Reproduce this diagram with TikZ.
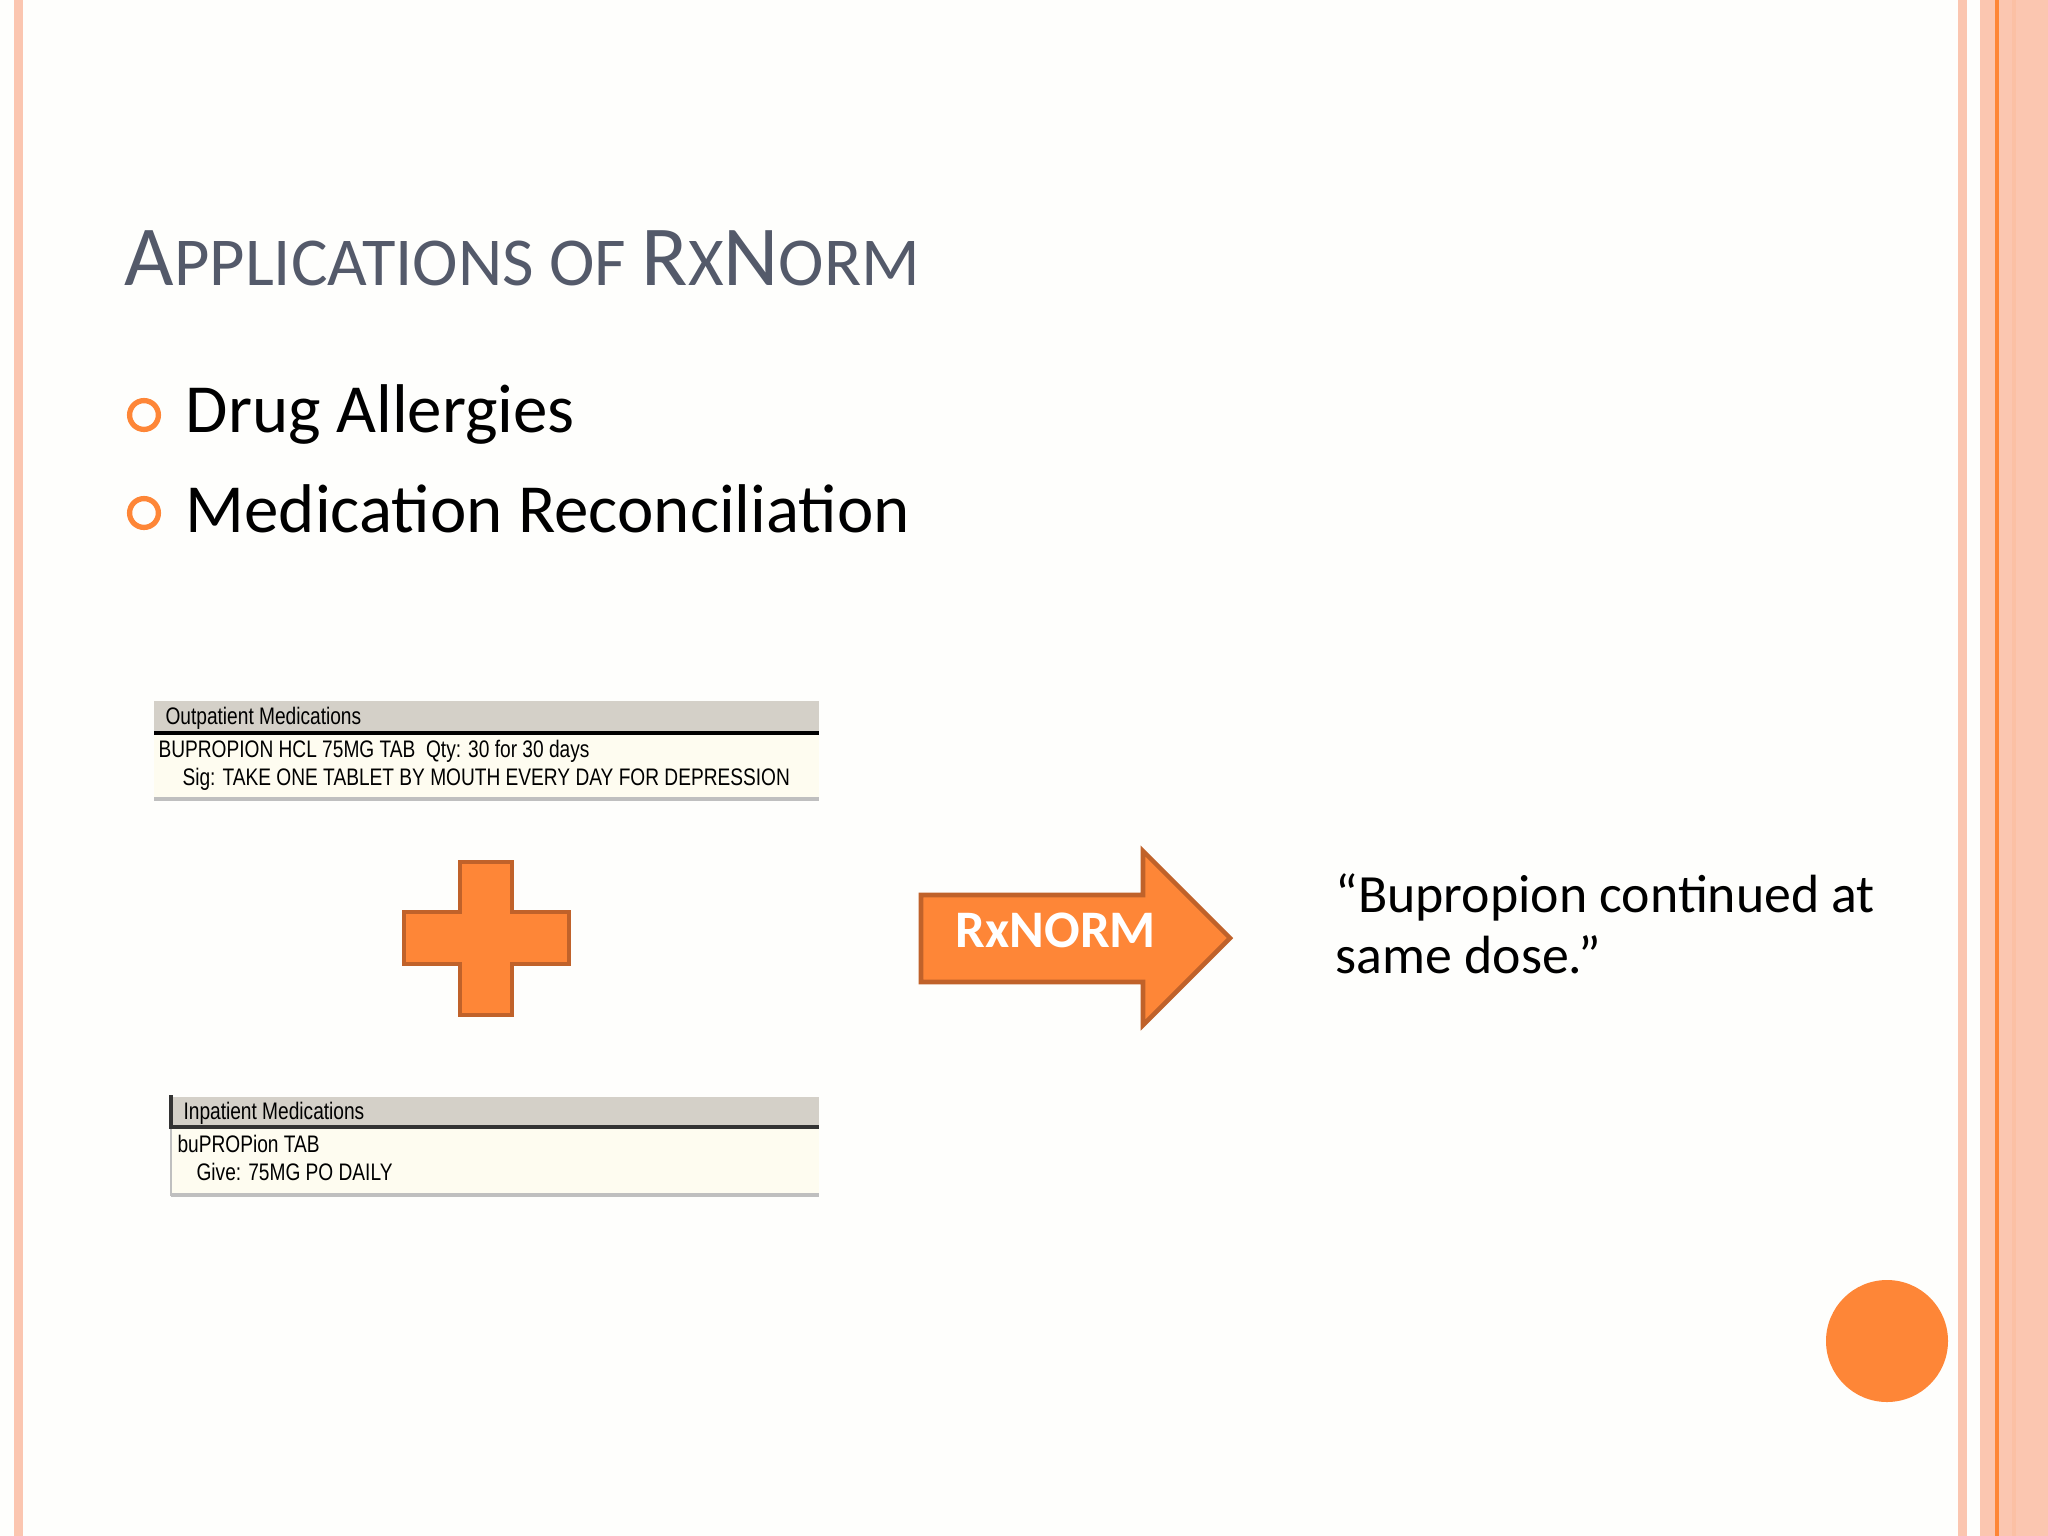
\documentclass[tikz,border=0pt]{standalone}
\usepackage{fontspec}
\setmainfont{Carlito}
\newfontfamily\uifont{Liberation Sans}
\definecolor{bg}{HTML}{FEFEFC}
\definecolor{pinkb}{HTML}{FBC6B0}
\definecolor{orng}{HTML}{FE8637}
\definecolor{orngd}{HTML}{C0622A}
\definecolor{titlec}{HTML}{545A6A}
\definecolor{hdr}{HTML}{D4D0C8}
\definecolor{bodyc}{HTML}{FEFCF0}
\newcommand{\bigc}[1]{{\fontsize{24.3}{28}\selectfont #1}}
\tikzset{
 ui/.style={font=\uifont\fontsize{6.8}{8}\selectfont, anchor=base west, inner sep=0, xscale=0.8},
 shp/.style={fill=orng, draw=orngd, line width=1.3pt, line join=miter},
 bul/.style={circle, draw=orng, line width=1.5pt, minimum size=8.2pt, inner sep=0}
}
\begin{document}
\begin{tikzpicture}[x=0.01cm,y=-0.01cm]
\useasboundingbox (0,0) rectangle (2048,1536);
\fill[bg] (0,0) rectangle (2048,1536);
% borders
\fill[pinkb] (14,0) rectangle (23,1536);
\fill[pinkb] (1958,0) rectangle (1967,1536);
\fill[pinkb] (1980,0) rectangle (2048,1536);
\fill[orng] (1995,0) rectangle (1999,1536);
\fill[pinkb!90!orng] (2012,0) rectangle (2016,1536);
% title
\node[anchor=base west, inner sep=0, text=titlec, font=\fontsize{19.5}{24}\selectfont] (title) at (124,285) {\bigc{A}PPLICATIONS OF \bigc{R}X\bigc{N}ORM};
% bullets
\node[bul] (b1) at (144,415) {};
\node[bul] (b2) at (144,513) {};
\node[anchor=base west, inner sep=0, font=\fontsize{19.6}{24}\selectfont] (t1) at (185,432) {Drug Allergies};
\node[anchor=base west, inner sep=0, font=\fontsize{19.6}{24}\selectfont] (t2) at (185,532) {Medication Reconciliation};
% outpatient box
\fill[bodyc] (154,733) rectangle (819,798);
\fill[hdr] (154,701) rectangle (819,731);
\fill[black] (154,731) rectangle (819,735);
\draw[gray!50, line width=1pt] (154,799) -- (819,799);
\node[ui] (oh) at (165,724) {Outpatient Medications};
\node[ui] (o1) at (158,757) {BUPROPION HCL 75MG TAB\ \ Qty: 30 for 30 days};
\node[ui] (o2) at (182,785) {Sig: TAKE ONE TABLET BY MOUTH EVERY DAY FOR DEPRESSION};
% inpatient box
\fill[bodyc] (171,1129) rectangle (819,1193);
\fill[hdr] (171,1097) rectangle (819,1125);
\fill[black!80] (171,1125) rectangle (819,1129);
\draw[black!80, line width=1pt] (171,1095) -- (171,1129);
\draw[gray!50, line width=0.7pt] (171,1129) -- (171,1196);
\draw[gray!50, line width=1pt] (171,1195) -- (819,1195);
\node[ui] (ih) at (183,1119) {Inpatient Medications};
\node[ui] (i1) at (177,1152) {buPROPion TAB};
\node[ui] (i2) at (196,1180) {Give: 75MG PO DAILY};
% plus
\draw[shp] (460,862) -- (512,862) -- (512,912) -- (569,912) -- (569,964) -- (512,964) -- (512,1015) -- (460,1015) -- (460,964) -- (404,964) -- (404,912) -- (460,912) -- cycle;
% arrow
\draw[shp] (921,895) -- (1143,895) -- (1143,851) -- (1230,938) -- (1143,1025) -- (1143,982) -- (921,982) -- cycle;
\node[text=white, font=\bfseries\fontsize{15}{18}\selectfont] (rx) at (1056,930) {RxNORM};
% quote
\node[anchor=base west, inner sep=0, align=left, font=\fontsize{15.3}{17.3}\selectfont] (q) at (1335,973) {“Bupropion continued at\\same dose.”};
% circle
\fill[orng] (1887,1341) circle (61);
\end{tikzpicture}
\end{document}
